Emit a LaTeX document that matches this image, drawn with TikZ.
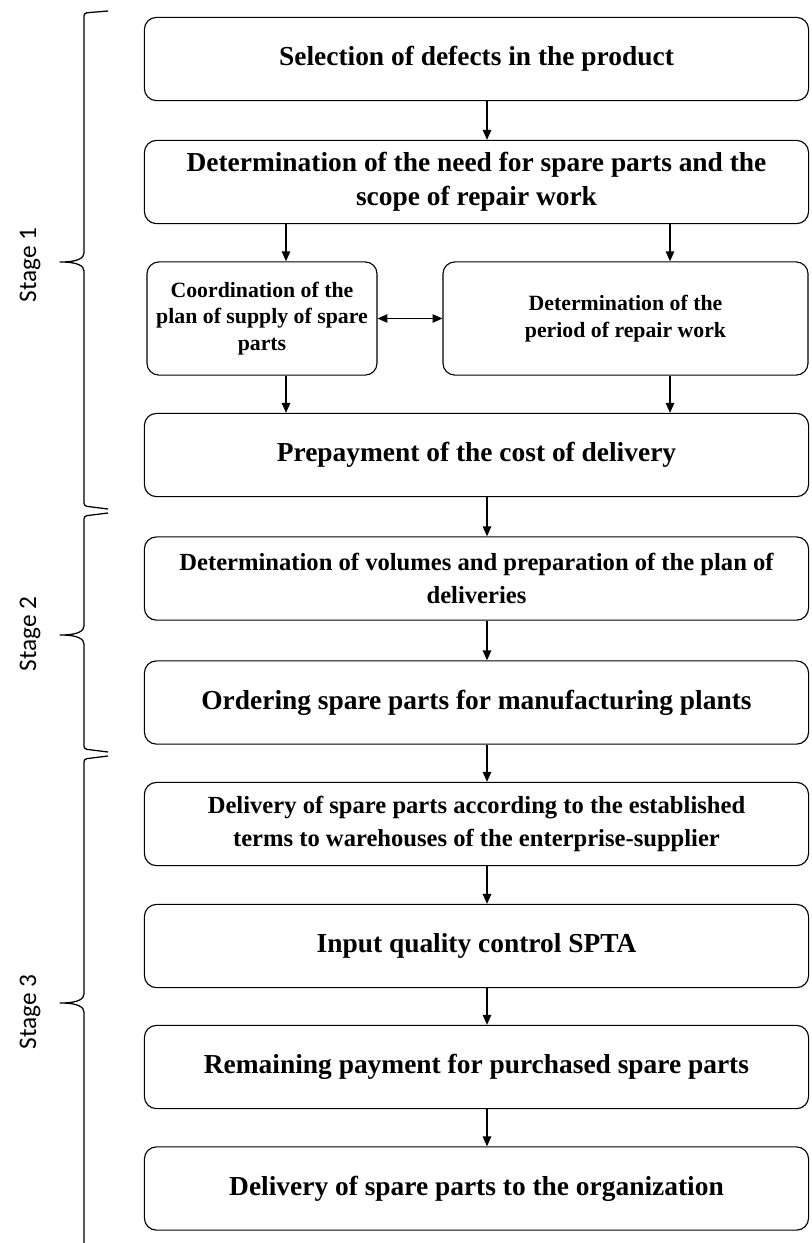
\documentclass[tikz,border=0pt]{standalone}
\usepackage{fontspec}
\setmainfont{Liberation Serif}
\newfontfamily\stagefont{Carlito}
\usetikzlibrary{arrows.meta}

\begin{document}
\begin{tikzpicture}[x=0.025cm,y=-0.025cm,
	box/.style={draw,line width=0.8pt,rounded corners=0.3cm,minimum width=16.6cm,minimum height=2.08cm,align=center,inner sep=2pt,font=\fontsize{19.5}{24}\selectfont\bfseries},
	smallbox/.style={box,minimum height=2.83cm,font=\fontsize{15.5}{19}\selectfont\bfseries},
	arr/.style={-{Triangle[length=7pt,width=6pt]},line width=0.8pt},
	arrs/.style={{Triangle[length=7pt,width=6pt]}-{Triangle[length=7pt,width=6pt]},line width=0.8pt},
	stagebrace/.style={line width=0.9pt,rounded corners=2pt},
	stagelabel/.style={rotate=90,font=\stagefont\fontsize{18}{20}\selectfont}]
			\useasboundingbox (0,0) rectangle (811,1243); % page size
			% stage 1
			\node[box] (b1) at (476.5,59) {Selection of defects in the product};
			\node[box] (b2) at (476.5,182) {Determination of the need for spare parts and the\\ scope of repair work};
			\node[smallbox,minimum width=5.75cm] (b3l) at (262,318.5) {Coordination of the\\ plan of supply of spare\\ parts};
			\node[smallbox,minimum width=9.125cm] (b3r) at (625.5,318.5) {Determination of the\\ period of repair work};
			\node[box] (b4) at (476.5,455) {Prepayment of the cost of delivery};
			% stage 2
			\node[box,font=\fontsize{17.5}{23}\selectfont\bfseries] (b5) at (476.5,578.5) {Determination of volumes and preparation of the plan of\\ deliveries};
			\node[box] (b6) at (476.5,702.5) {Ordering spare parts for manufacturing plants};
			% stage 3
			\node[box,font=\fontsize{17.5}{23}\selectfont\bfseries] (b7) at (476.5,824) {Delivery of spare parts according to the established\\ terms to warehouses of the enterprise-supplier};
			\node[box] (b8) at (476.5,946) {Input quality control SPTA};
			\node[box] (b9) at (476.5,1067) {Remaining payment for purchased spare parts};
			\node[box] (b10) at (476.5,1188.5) {Delivery of spare parts to the organization};
			% arrow columns
			\coordinate (mx) at (487,0);
			\coordinate (lx) at (286,0);
			\coordinate (rx) at (670,0);
			\draw[arr] (b1.south -| mx) -- (b2.north -| mx);
			\draw[arr] (b2.south -| lx) -- (b3l.north -| lx); % split to left
			\draw[arr] (b2.south -| rx) -- (b3r.north -| rx); % split to right
			\draw[arrs] (b3l.east) -- (b3r.west); % both ways
			\draw[arr] (b3l.south -| lx) -- (b4.north -| lx);
			\draw[arr] (b3r.south -| rx) -- (b4.north -| rx);
			\draw[arr] (b4.south -| mx) -- (b5.north -| mx);
			\draw[arr] (b5.south -| mx) -- (b6.north -| mx);
			\draw[arr] (b6.south -| mx) -- (b7.north -| mx);
			\draw[arr] (b7.south -| mx) -- (b8.north -| mx);
			\draw[arr] (b8.south -| mx) -- (b9.north -| mx);
			\draw[arr] (b9.south -| mx) -- (b10.north -| mx);
			% braces
			\draw[stagebrace] (108,11) -- (84,13) -- (84,250) .. controls (84,258) and (78,262) .. (58,262) .. controls (78,262) and (84,266) .. (84,274) -- (84,506) -- (108,509);
			\draw[stagebrace] (108,513) -- (84,516) -- (84,623) .. controls (84,631) and (78,635) .. (58,635) .. controls (78,635) and (84,639) .. (84,647) -- (84,749) -- (108,752);
			\draw[stagebrace] (108,756) -- (84,759) -- (84,991) .. controls (84,999) and (78,1003) .. (58,1003) .. controls (78,1003) and (84,1007) .. (84,1015) -- (84,1243);
			\node[stagelabel] (s1) at (30,265) {Stage 1};
			\node[stagelabel] (s2) at (30,634) {Stage 2};
			\node[stagelabel] (s3) at (30,1012) {Stage 3};
		\end{tikzpicture}
\end{document}
